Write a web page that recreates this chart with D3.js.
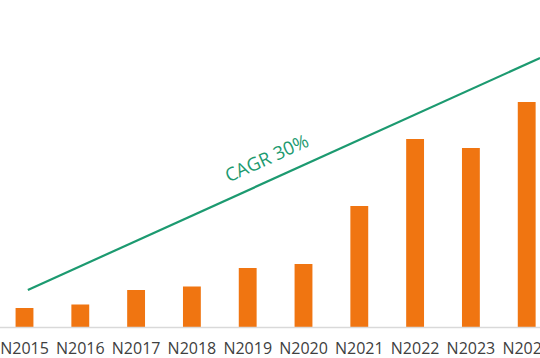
<!DOCTYPE html>
<html>
<head>
<meta charset="utf-8">
<script src="https://cdn.jsdelivr.net/npm/d3@7"></script>
<style>
  html, body { margin: 0; padding: 0; background: #ffffff; }
  svg { display: block; }
</style>
</head>
<body>
<svg id="chart" width="540" height="358"></svg>
<script>
// ---- data ----
const categories = ["N2015","N2016","N2017","N2018","N2019","N2020","N2021","N2022","N2023","N2024"];
const values = [19, 22.5, 37, 40.5, 59, 63, 121, 188, 179, 225];
// trend line (CAGR) endpoints in category-index / value units
const trendIndex = [0.06, 9.24];
const trendValue = [37, 269];
const trendLabel = "CAGR 30%";
const trendLabelIndex = 4.5;

// ---- layout ----
const W = 540, H = 358;
const baseY = 327;
const svg = d3.select("#chart");

const x = d3.scaleBand()
  .domain(categories)
  .range([-3.4, 554.6])
  .paddingInner(0.68)
  .paddingOuter(0.34);

const y = d3.scaleLinear().domain([0, 300]).range([baseY, baseY - 300]);

const xi = d3.scaleLinear()
  .domain([0, categories.length - 1])
  .range([x(categories[0]) + x.bandwidth() / 2, x(categories[categories.length - 1]) + x.bandwidth() / 2]);

// bars
svg.append("g").selectAll("rect")
  .data(values)
  .join("rect")
  .attr("x", (d, i) => x(categories[i]))
  .attr("width", x.bandwidth())
  .attr("y", d => y(d))
  .attr("height", d => y(0) - y(d))
  .attr("fill", "#F07511");

// baseline axis
const axis = d3.axisBottom(x).tickSize(0).tickPadding(16);
const gAxis = svg.append("g").attr("transform", `translate(0,${baseY})`).call(axis);
gAxis.select(".domain").remove();
gAxis.append("line")
  .attr("x1", 0).attr("x2", W).attr("y1", 0.5).attr("y2", 0.5)
  .attr("stroke", "#d9d9d9").attr("stroke-width", 1.5);
gAxis.selectAll(".tick text")
  .attr("fill", "#404040")
  .style("font-family", "'Open Sans', 'Noto Sans', sans-serif")
  .style("font-size", "16px");

// trend line
const trendPts = trendIndex.map((t, i) => [xi(t), y(trendValue[i])]);
svg.append("path")
  .attr("d", d3.line()(trendPts))
  .attr("fill", "none")
  .attr("stroke", "#1C9A70")
  .attr("stroke-width", 2.2);

// label
const slope = (trendPts[1][1] - trendPts[0][1]) / (trendPts[1][0] - trendPts[0][0]);
const angle = Math.atan(slope) * 180 / Math.PI;
const tVal = d3.scaleLinear().domain(trendIndex).range(trendValue);
const lx = xi(trendLabelIndex), ly = y(tVal(trendLabelIndex));
svg.append("text")
  .attr("transform", `translate(${lx},${ly}) rotate(${angle})`)
  .attr("y", -15)
  .attr("text-anchor", "middle")
  .attr("fill", "#1C9A70")
  .style("font-family", "'Open Sans', 'Noto Sans', sans-serif")
  .style("font-size", "18.5px")
  .text(trendLabel);
</script>
</body>
</html>
